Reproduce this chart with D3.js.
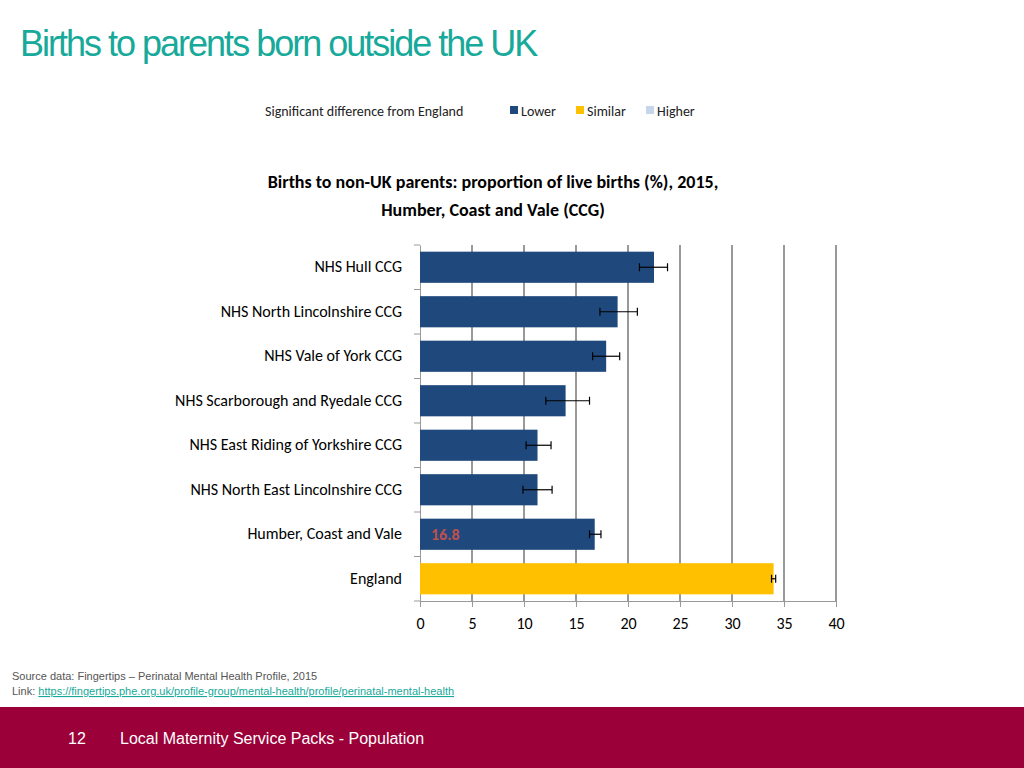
<!DOCTYPE html>
<html><head><meta charset="utf-8">
<script src="https://cdn.jsdelivr.net/npm/d3@7"></script>
<style>body{margin:0;width:1024px;height:768px;overflow:hidden;background:#fff;font-family:"Liberation Sans",Arial,sans-serif}</style>
</head><body><svg id="c" width="1024" height="768"></svg>
<script>
const areas = ["NHS Hull CCG","NHS North Lincolnshire CCG","NHS Vale of York CCG","NHS Scarborough and Ryedale CCG","NHS East Riding of Yorkshire CCG","NHS North East Lincolnshire CCG","Humber, Coast and Vale","England"];
const values = [22.5, 19.0, 17.9, 14.0, 11.3, 11.3, 16.8, 34.0];
const lowCI = [21.1, 17.3, 16.6, 12.1, 10.2, 9.9, 16.3, 33.8];
const highCI = [23.8, 20.9, 19.2, 16.3, 12.6, 12.7, 17.4, 34.2];
const status = ["Lower","Lower","Lower","Lower","Lower","Lower","Lower","Similar"];
const xTicks = [0,5,10,15,20,25,30,35,40];

const colors = {Lower:"#1f497d", Similar:"#ffc000", Higher:"#c6d5ea"};
const cal = "Carlito, 'Liberation Sans', 'Open Sans', sans-serif";
const svg = d3.select("#c");

svg.append("text").attr("x",20).attr("y",56).attr("fill","#17a99a")
  .style("font","36px 'Liberation Sans', Arial, sans-serif").style("letter-spacing","-2px")
  .text("Births to parents born outside the UK");

// legend
const lg = svg.append("g").style("font",`14px ${cal}`).attr("fill","#222");
lg.append("text").attr("x",265).attr("y",116).text("Significant difference from England");
[["Lower",510],["Similar",576],["Higher",646]].forEach(([k,x])=>{
  lg.append("rect").attr("x",x).attr("y",106).attr("width",8).attr("height",8).attr("fill",colors[k]);
  lg.append("text").attr("x",x+11).attr("y",116).text(k);
});

svg.append("text").attr("x",493).attr("y",188).attr("text-anchor","middle")
  .style("font",`bold 18px ${cal}`).text("Births to non-UK parents: proportion of live births (%), 2015,");
svg.append("text").attr("x",493).attr("y",216).attr("text-anchor","middle")
  .style("font",`bold 18px ${cal}`).text("Humber, Coast and Vale (CCG)");

const x = d3.scaleLinear().domain([0,40]).range([420,836]);
const y = d3.scaleBand().domain(areas).range([245,601]).paddingInner(0.3).paddingOuter(0.15);

svg.append("g").selectAll("line").data(xTicks.slice(1)).join("line")
  .attr("x1",d=>x(d)).attr("x2",d=>x(d)).attr("y1",245).attr("y2",601)
  .attr("stroke","#777").attr("stroke-width",1.5);

svg.append("g").attr("transform","translate(0,601)")
  .call(d3.axisBottom(x).tickValues(xTicks).tickSize(6).tickSizeInner(6))
  .call(g=>{g.select(".domain").attr("stroke","#999");g.selectAll(".tick line").attr("stroke","#999");
    g.selectAll("text").style("font",`16px ${cal}`).attr("fill","#000").attr("dy","1.2em");});

svg.append("g").attr("transform","translate(420,0)")
  .call(d3.axisLeft(y).tickSize(0).tickPadding(18))
  .call(g=>{g.select(".domain").attr("stroke","#999");g.selectAll("text").style("font",`16px ${cal}`).attr("fill","#000");});
// y ticks between categories
svg.append("g").selectAll("line").data(d3.range(areas.length+1)).join("line")
  .attr("x1",414).attr("x2",420)
  .attr("y1",i=>245+i*(356/8)).attr("y2",i=>245+i*(356/8)).attr("stroke","#999");

svg.append("g").selectAll("rect").data(areas).join("rect")
  .attr("x",x(0)).attr("y",d=>y(d)).attr("height",y.bandwidth())
  .attr("width",(d,i)=>x(values[i])-x(0)).attr("fill",(d,i)=>colors[status[i]]);

const eb = svg.append("g").attr("stroke","#000").attr("stroke-width",1.2);
areas.forEach((a,i)=>{
  const cy = y(a)+y.bandwidth()/2;
  eb.append("line").attr("x1",x(lowCI[i])).attr("x2",x(highCI[i])).attr("y1",cy).attr("y2",cy);
  [lowCI[i],highCI[i]].forEach(v=>eb.append("line").attr("x1",x(v)).attr("x2",x(v)).attr("y1",cy-4).attr("y2",cy+4));
});

svg.append("text").attr("x",431).attr("y",y(areas[6])+y.bandwidth()/2+6)
  .style("font",`bold 16px ${cal}`).attr("fill","#c0504d").text(values[6].toFixed(1));

const src = svg.append("g").style("font","11px 'Liberation Sans', Arial, sans-serif").attr("fill","#555");
src.append("text").attr("x",12).attr("y",680).text("Source data: Fingertips \u2013 Perinatal  Mental Health Profile, 2015");
const t = src.append("text").attr("x",12).attr("y",695).text("Link: ");
t.append("tspan").attr("fill","#17a99a").attr("text-decoration","underline")
  .text("https://fingertips.phe.org.uk/profile-group/mental-health/profile/perinatal-mental-health");

svg.append("rect").attr("x",0).attr("y",707).attr("width",1024).attr("height",61).attr("fill","#9b0039");
svg.append("text").attr("x",68).attr("y",744).attr("fill","#fff").style("font","16px 'Liberation Sans', Arial, sans-serif").text("12");
svg.append("text").attr("x",120).attr("y",744).attr("fill","#fff").style("font","16px 'Liberation Sans', Arial, sans-serif").text("Local Maternity Service Packs - Population");
</script></body></html>
